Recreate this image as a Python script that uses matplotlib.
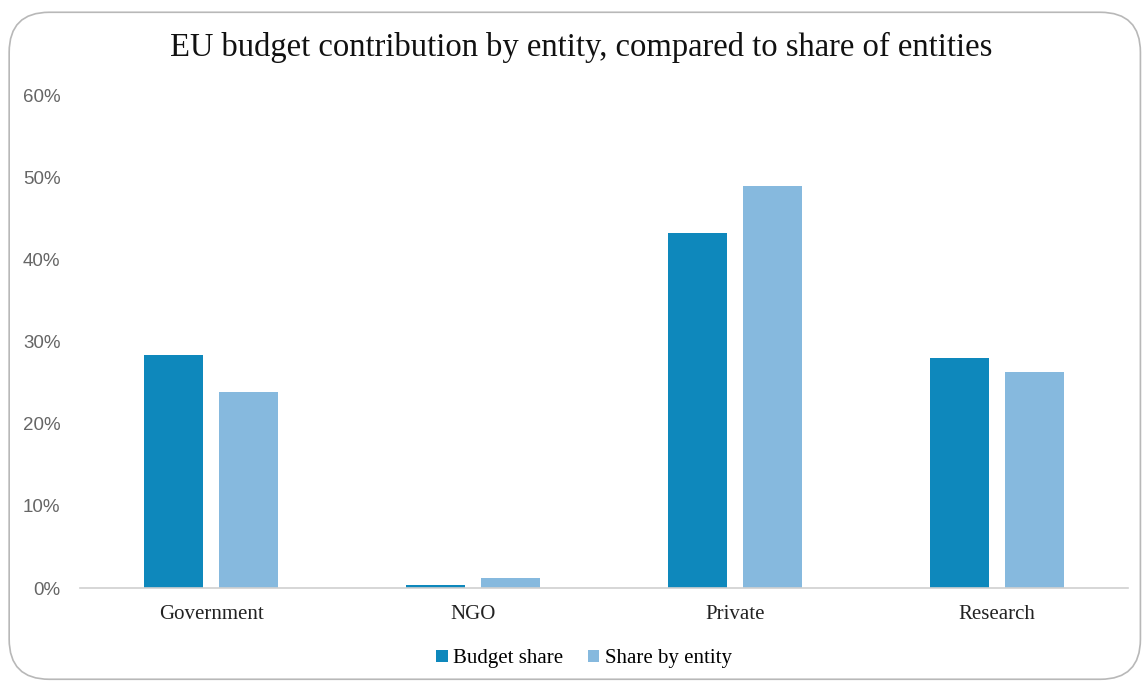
import matplotlib.pyplot as plt
import numpy as np
from matplotlib.patches import FancyBboxPatch
from matplotlib.ticker import PercentFormatter

categorias = ["Government", "NGO", "Private", "Research"]
budget_share = [28.3, 0.4, 43.2, 28.0]
share_by_entity = [23.8, 1.2, 48.9, 26.3]

azul = "#0E88BC"
celeste = "#86B9DE"
serif = ["Liberation Serif", "DejaVu Serif"]

fig = plt.figure(figsize=(11.45, 6.82), dpi=100)
ax = fig.add_axes([0.0699, 0.1378, 0.9153, 0.7229])

# marco redondeado alrededor de todo el grafico
marco = FancyBboxPatch((0.008, 0.004), 0.988, 0.978, boxstyle="round,pad=0,rounding_size=0.035",
                       transform=fig.transFigure, fill=False, edgecolor="#b8b8b8", linewidth=1.2,
                       mutation_aspect=11.45 / 6.82)
fig.patches.append(marco)

x = np.arange(len(categorias))
ancho = 0.225
ax.bar(x - 0.143, budget_share, ancho, color=azul, label="Budget share")
ax.bar(x + 0.143, share_by_entity, ancho, color=celeste, label="Share by entity")

ax.set_xlim(-0.5, 3.5)
ax.set_ylim(0, 60)
ax.set_yticks(range(0, 61, 10))
ax.yaxis.set_major_formatter(PercentFormatter(decimals=0))
ax.set_xticks(x)
ax.set_xticklabels(categorias, fontfamily=serif, fontsize=15, color="#222222")

for lado in ["top", "right", "left"]:
    ax.spines[lado].set_visible(False)
ax.spines["bottom"].set_color("#d0d0d0")
ax.spines["bottom"].set_linewidth(1.2)
ax.tick_params(axis="both", length=0)
ax.tick_params(axis="x", pad=12)
ax.tick_params(axis="y", pad=14)
for t in ax.get_yticklabels():
    t.set_fontfamily("Liberation Sans")
    t.set_fontsize(13.5)
    t.set_color("#666666")

fig.text(0.5075, 0.931, "EU budget contribution by entity, compared to share of entities",
         ha="center", va="center", fontfamily=serif, fontsize=23.5, color="#111111")

fig.legend(loc="center", bbox_to_anchor=(0.510, 0.034), ncol=2, frameon=False,
           prop={"family": serif, "size": 15}, handlelength=0.55, handleheight=0.55,
           handletextpad=0.25, columnspacing=1.2)

fig.savefig("out.png", dpi=100)
